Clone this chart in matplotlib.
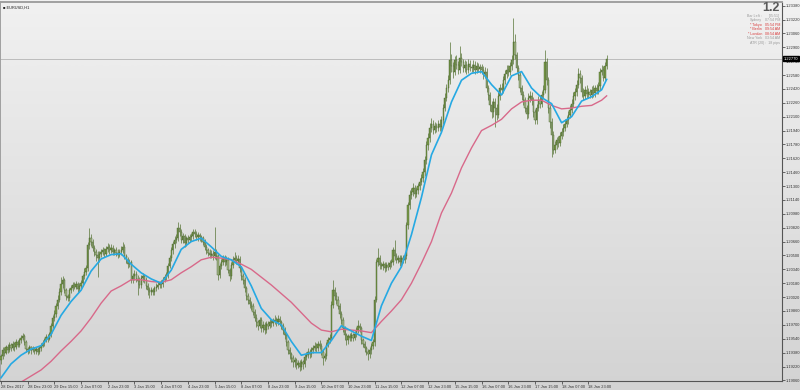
import numpy as np
import matplotlib.pyplot as plt
from matplotlib.colors import LinearSegmentedColormap

plt.rcParams['font.family'] = ['Liberation Sans', 'DejaVu Sans']

# EURUSD H1 bars, 28 Dec 2017 07:00 onwards
first_open = 1.1930
closes = [
    1.1934, 1.1941, 1.1938, 1.1944, 1.1941, 1.1947,
    1.1943, 1.1948, 1.1944, 1.1950, 1.1947, 1.1952,
    1.1955, 1.1957, 1.1950, 1.1942, 1.1941, 1.1944,
    1.1941, 1.1943, 1.1940, 1.1942, 1.1939, 1.1943,
    1.1946, 1.1949, 1.1952, 1.1956, 1.1954, 1.1959,
    1.1969, 1.1978, 1.1982, 1.1992, 1.1999, 1.2008,
    1.2017, 1.2022, 1.2010, 1.2003, 1.2001, 1.2010,
    1.2012, 1.2016, 1.2014, 1.2017, 1.2011, 1.2015,
    1.2018, 1.2026, 1.2031, 1.2035, 1.2062, 1.2070,
    1.2066, 1.2059, 1.2054, 1.2051, 1.2047, 1.2052,
    1.2054, 1.2056, 1.2052, 1.2057, 1.2060, 1.2056,
    1.2059, 1.2054, 1.2056, 1.2053, 1.2051, 1.2054,
    1.2056, 1.2060, 1.2049, 1.2045, 1.2040, 1.2042,
    1.2022, 1.2026, 1.2029, 1.2023, 1.2021, 1.2016,
    1.2024, 1.2026, 1.2022, 1.2015, 1.2010, 1.2008,
    1.2010, 1.2008, 1.2012, 1.2014, 1.2016, 1.2018,
    1.2017, 1.2022, 1.2025, 1.2027, 1.2038, 1.2047,
    1.2056, 1.2063, 1.2068, 1.2070, 1.2082, 1.2077,
    1.2068, 1.2072, 1.2064, 1.2070, 1.2068, 1.2071,
    1.2072, 1.2077, 1.2075, 1.2071, 1.2074, 1.2071,
    1.2070, 1.2066, 1.2060, 1.2056, 1.2053, 1.2051,
    1.2052, 1.2049, 1.2054, 1.2049, 1.2027, 1.2038,
    1.2042, 1.2047, 1.2042, 1.2045, 1.2033, 1.2026,
    1.2039, 1.2045, 1.2047, 1.2044, 1.2046, 1.2035,
    1.2026, 1.2022, 1.2012, 1.2003, 1.1999, 1.1994,
    1.1992, 1.1985, 1.1978, 1.1973, 1.1969, 1.1976,
    1.1966, 1.1970, 1.1964, 1.1971, 1.1969, 1.1973,
    1.1972, 1.1974, 1.1976, 1.1973, 1.1977, 1.1973,
    1.1969, 1.1964, 1.1958, 1.1950, 1.1941, 1.1936,
    1.1932, 1.1927, 1.1929, 1.1924, 1.1926, 1.1922,
    1.1927, 1.1925, 1.1933, 1.1935, 1.1939, 1.1936,
    1.1941, 1.1943, 1.1946, 1.1943, 1.1948, 1.1946,
    1.1939, 1.1932, 1.1934, 1.1947, 1.1952, 1.1955,
    1.1993, 1.2010, 1.2003, 1.1999, 1.1992, 1.1982,
    1.1976, 1.1966, 1.1958, 1.1952, 1.1957, 1.1955,
    1.1958, 1.1955, 1.1959, 1.1964, 1.1969, 1.1966,
    1.1952, 1.1948, 1.1943, 1.1939, 1.1936, 1.1941,
    1.1946, 1.1950, 1.1999, 1.2042, 1.2047, 1.2039,
    1.2038, 1.2040, 1.2035, 1.2039, 1.2037, 1.2041,
    1.2042, 1.2056, 1.2049, 1.2045, 1.2047, 1.2042,
    1.2047, 1.2045, 1.2049, 1.2085, 1.2108, 1.2120,
    1.2123, 1.2128, 1.2121, 1.2125, 1.2130, 1.2135,
    1.2139, 1.2146, 1.2160, 1.2177, 1.2185, 1.2197,
    1.2202, 1.2195, 1.2199, 1.2197, 1.2202, 1.2198,
    1.2206, 1.2220, 1.2232, 1.2243, 1.2252, 1.2275,
    1.2268, 1.2262, 1.2275, 1.2270, 1.2264, 1.2278,
    1.2273, 1.2266, 1.2270, 1.2264, 1.2271, 1.2267,
    1.2266, 1.2270, 1.2264, 1.2268, 1.2265, 1.2267,
    1.2264, 1.2259, 1.2262, 1.2243, 1.2235, 1.2223,
    1.2215, 1.2227, 1.2220, 1.2212, 1.2234, 1.2243,
    1.2241, 1.2252, 1.2259, 1.2264, 1.2262, 1.2268,
    1.2275, 1.2296, 1.2281, 1.2266, 1.2258, 1.2243,
    1.2235, 1.2229, 1.2220, 1.2213, 1.2232, 1.2234,
    1.2229, 1.2215, 1.2206, 1.2220, 1.2229, 1.2225,
    1.2235, 1.2241, 1.2273, 1.2252, 1.2220, 1.2204,
    1.2189, 1.2172, 1.2177, 1.2183, 1.2180, 1.2188,
    1.2192, 1.2197, 1.2202, 1.2206, 1.2212, 1.2218,
    1.2225, 1.2234, 1.2238, 1.2247, 1.2259, 1.2255,
    1.2238, 1.2234, 1.2241, 1.2236, 1.2238, 1.2235,
    1.2241, 1.2237, 1.2243, 1.2240, 1.2245, 1.2262,
    1.2264, 1.2255, 1.2268, 1.2277,
]
highs = [
    1.1937, 1.1945, 1.1944, 1.1947, 1.1948, 1.1950,
    1.1949, 1.1951, 1.1950, 1.1954, 1.1952, 1.1955,
    1.1958, 1.1961, 1.1959, 1.1952, 1.1945, 1.1947,
    1.1946, 1.1946, 1.1945, 1.1944, 1.1945, 1.1946,
    1.1949, 1.1953, 1.1955, 1.1960, 1.1959, 1.1962,
    1.1972, 1.1981, 1.1987, 1.1995, 1.2004, 1.2012,
    1.2025, 1.2026, 1.2024, 1.2012, 1.2006, 1.2013,
    1.2016, 1.2019, 1.2020, 1.2021, 1.2019, 1.2018,
    1.2022, 1.2029, 1.2035, 1.2039, 1.2066, 1.2082,
    1.2075, 1.2069, 1.2062, 1.2058, 1.2055, 1.2055,
    1.2058, 1.2060, 1.2059, 1.2061, 1.2064, 1.2063,
    1.2063, 1.2062, 1.2059, 1.2060, 1.2057, 1.2058,
    1.2061, 1.2065, 1.2063, 1.2052, 1.2048, 1.2046,
    1.2045, 1.2030, 1.2033, 1.2032, 1.2027, 1.2025,
    1.2028, 1.2030, 1.2029, 1.2025, 1.2018, 1.2014,
    1.2014, 1.2013, 1.2015, 1.2018, 1.2020, 1.2021,
    1.2022, 1.2025, 1.2029, 1.2031, 1.2041, 1.2051,
    1.2060, 1.2067, 1.2072, 1.2075, 1.2089, 1.2086,
    1.2080, 1.2076, 1.2075, 1.2073, 1.2074, 1.2075,
    1.2076, 1.2081, 1.2080, 1.2078, 1.2077, 1.2076,
    1.2074, 1.2073, 1.2069, 1.2063, 1.2059, 1.2057,
    1.2056, 1.2056, 1.2083, 1.2058, 1.2052, 1.2041,
    1.2046, 1.2050, 1.2051, 1.2049, 1.2048, 1.2036,
    1.2043, 1.2049, 1.2054, 1.2050, 1.2050, 1.2049,
    1.2038, 1.2030, 1.2025, 1.2015, 1.2007, 1.2002,
    1.1998, 1.1995, 1.1988, 1.1982, 1.1976, 1.1979,
    1.1979, 1.1974, 1.1973, 1.1975, 1.1974, 1.1977,
    1.1977, 1.1978, 1.1981, 1.1979, 1.1981, 1.1980,
    1.1976, 1.1972, 1.1967, 1.1961, 1.1953, 1.1944,
    1.1939, 1.1935, 1.1933, 1.1932, 1.1930, 1.1929,
    1.1931, 1.1930, 1.1936, 1.1939, 1.1943, 1.1942,
    1.1945, 1.1947, 1.1950, 1.1949, 1.1951, 1.1952,
    1.1949, 1.1941, 1.1938, 1.1950, 1.1956, 1.1959,
    1.1998, 1.2022, 1.2014, 1.2008, 1.2003, 1.1995,
    1.1986, 1.1979, 1.1969, 1.1961, 1.1960, 1.1961,
    1.1962, 1.1961, 1.1963, 1.1968, 1.1976, 1.1972,
    1.1969, 1.1955, 1.1951, 1.1946, 1.1942, 1.1944,
    1.1949, 1.1954, 1.2003, 1.2046, 1.2059, 1.2050,
    1.2043, 1.2044, 1.2043, 1.2042, 1.2043, 1.2045,
    1.2046, 1.2060, 1.2068, 1.2053, 1.2051, 1.2050,
    1.2050, 1.2051, 1.2053, 1.2089, 1.2112, 1.2125,
    1.2128, 1.2133, 1.2131, 1.2129, 1.2134, 1.2139,
    1.2144, 1.2151, 1.2165, 1.2182, 1.2191, 1.2203,
    1.2208, 1.2206, 1.2204, 1.2203, 1.2206, 1.2207,
    1.2211, 1.2225, 1.2237, 1.2248, 1.2258, 1.2296,
    1.2282, 1.2273, 1.2280, 1.2281, 1.2274, 1.2291,
    1.2283, 1.2277, 1.2275, 1.2274, 1.2276, 1.2275,
    1.2271, 1.2275, 1.2274, 1.2273, 1.2272, 1.2271,
    1.2271, 1.2268, 1.2267, 1.2266, 1.2247, 1.2239,
    1.2228, 1.2231, 1.2232, 1.2225, 1.2238, 1.2248,
    1.2249, 1.2257, 1.2264, 1.2269, 1.2270, 1.2273,
    1.2281, 1.2324, 1.2305, 1.2285, 1.2270, 1.2262,
    1.2247, 1.2240, 1.2233, 1.2224, 1.2237, 1.2240,
    1.2239, 1.2233, 1.2219, 1.2225, 1.2234, 1.2235,
    1.2240, 1.2247, 1.2287, 1.2278, 1.2256, 1.2224,
    1.2208, 1.2193, 1.2182, 1.2187, 1.2188, 1.2192,
    1.2197, 1.2202, 1.2207, 1.2211, 1.2217, 1.2223,
    1.2230, 1.2239, 1.2243, 1.2252, 1.2266, 1.2264,
    1.2258, 1.2243, 1.2245, 1.2246, 1.2243, 1.2242,
    1.2245, 1.2246, 1.2247, 1.2248, 1.2250, 1.2266,
    1.2270, 1.2268, 1.2273, 1.2281,
]
lows = [
    1.1925, 1.1931, 1.1934, 1.1936, 1.1938, 1.1939,
    1.1940, 1.1941, 1.1940, 1.1942, 1.1944, 1.1945,
    1.1949, 1.1952, 1.1947, 1.1939, 1.1937, 1.1938,
    1.1937, 1.1939, 1.1936, 1.1937, 1.1935, 1.1937,
    1.1940, 1.1944, 1.1946, 1.1950, 1.1950, 1.1952,
    1.1956, 1.1966, 1.1974, 1.1979, 1.1988, 1.1996,
    1.2005, 1.2013, 1.2007, 1.1999, 1.1997, 1.1998,
    1.2007, 1.2009, 1.2011, 1.2011, 1.2008, 1.2008,
    1.2012, 1.2015, 1.2023, 1.2028, 1.2032, 1.2058,
    1.2061, 1.2055, 1.2049, 1.2044, 1.2025, 1.2043,
    1.2048, 1.2050, 1.2048, 1.2049, 1.2054, 1.2052,
    1.2053, 1.2050, 1.2051, 1.2049, 1.2047, 1.2048,
    1.2050, 1.2053, 1.2046, 1.2041, 1.2036, 1.2037,
    1.2018, 1.2018, 1.2022, 1.2019, 1.2004, 1.2012,
    1.2013, 1.2020, 1.2018, 1.2011, 1.2005, 1.2001,
    1.2004, 1.2004, 1.2005, 1.2009, 1.2011, 1.2013,
    1.2013, 1.2014, 1.2019, 1.2022, 1.2024, 1.2035,
    1.2044, 1.2052, 1.2059, 1.2064, 1.2067, 1.2073,
    1.2064, 1.2064, 1.2060, 1.2061, 1.2064, 1.2065,
    1.2067, 1.2069, 1.2071, 1.2068, 1.2067, 1.2067,
    1.2066, 1.2062, 1.2056, 1.2052, 1.2049, 1.2047,
    1.2047, 1.2045, 1.2046, 1.2045, 1.2022, 1.2024,
    1.2034, 1.2039, 1.2038, 1.2039, 1.2030, 1.2021,
    1.2023, 1.2036, 1.2042, 1.2040, 1.2041, 1.2031,
    1.2022, 1.2017, 1.2008, 1.1999, 1.1994, 1.1989,
    1.1987, 1.1981, 1.1974, 1.1968, 1.1964, 1.1966,
    1.1962, 1.1962, 1.1960, 1.1961, 1.1965, 1.1966,
    1.1968, 1.1969, 1.1971, 1.1969, 1.1970, 1.1969,
    1.1965, 1.1960, 1.1954, 1.1946, 1.1937, 1.1931,
    1.1927, 1.1922, 1.1922, 1.1919, 1.1920, 1.1917,
    1.1918, 1.1919, 1.1922, 1.1929, 1.1932, 1.1932,
    1.1933, 1.1938, 1.1940, 1.1939, 1.1940, 1.1942,
    1.1935, 1.1924, 1.1928, 1.1931, 1.1944, 1.1949,
    1.1952, 1.1990, 1.1999, 1.1994, 1.1988, 1.1978,
    1.1971, 1.1962, 1.1953, 1.1947, 1.1948, 1.1951,
    1.1951, 1.1951, 1.1952, 1.1956, 1.1961, 1.1962,
    1.1948, 1.1944, 1.1939, 1.1935, 1.1929, 1.1932,
    1.1937, 1.1942, 1.1946, 1.1996, 1.2038, 1.2034,
    1.2034, 1.2033, 1.2031, 1.2032, 1.2033, 1.2034,
    1.2037, 1.2039, 1.2045, 1.2041, 1.2041, 1.2038,
    1.2038, 1.2041, 1.2041, 1.2046, 1.2081, 1.2104,
    1.2115, 1.2119, 1.2116, 1.2117, 1.2121, 1.2126,
    1.2131, 1.2135, 1.2142, 1.2156, 1.2172, 1.2181,
    1.2192, 1.2190, 1.2191, 1.2192, 1.2193, 1.2194,
    1.2194, 1.2202, 1.2216, 1.2228, 1.2238, 1.2248,
    1.2262, 1.2255, 1.2258, 1.2265, 1.2259, 1.2260,
    1.2268, 1.2261, 1.2262, 1.2259, 1.2260, 1.2263,
    1.2261, 1.2262, 1.2259, 1.2260, 1.2261, 1.2260,
    1.2259, 1.2254, 1.2255, 1.2238, 1.2229, 1.2217,
    1.2208, 1.2210, 1.2198, 1.2206, 1.2208, 1.2229,
    1.2236, 1.2237, 1.2248, 1.2255, 1.2257, 1.2258,
    1.2264, 1.2271, 1.2276, 1.2261, 1.2252, 1.2238,
    1.2229, 1.2224, 1.2215, 1.2207, 1.2209, 1.2227,
    1.2224, 1.2210, 1.2201, 1.2202, 1.2216, 1.2220,
    1.2221, 1.2231, 1.2237, 1.2247, 1.2214, 1.2197,
    1.2164, 1.2167, 1.2168, 1.2173, 1.2175, 1.2176,
    1.2184, 1.2188, 1.2193, 1.2198, 1.2202, 1.2208,
    1.2214, 1.2221, 1.2229, 1.2234, 1.2243, 1.2249,
    1.2233, 1.2229, 1.2230, 1.2232, 1.2232, 1.2231,
    1.2231, 1.2233, 1.2233, 1.2236, 1.2236, 1.2241,
    1.2258, 1.2251, 1.2252, 1.2265,
]

# moving averages, read every 6 bars
ma_idx = list(range(0, 361, 6)) + [363]
fast_ma = [
    1.1909, 1.1925, 1.1935, 1.1942, 1.1946, 1.1959, 1.1981, 1.1997, 1.2010, 1.2032,
    1.2046, 1.2051, 1.2052, 1.2040, 1.2030, 1.2023, 1.2018, 1.2033, 1.2057, 1.2066,
    1.2070, 1.2060, 1.2049, 1.2045, 1.2037, 1.2015, 1.1989, 1.1976, 1.1970, 1.1951,
    1.1935, 1.1938, 1.1938, 1.1952, 1.1969, 1.1963, 1.1957, 1.1952, 1.1992, 1.2018,
    1.2037, 1.2074, 1.2117, 1.2166, 1.2192, 1.2227, 1.2252, 1.2260, 1.2262, 1.2247,
    1.2235, 1.2257, 1.2262, 1.2243, 1.2232, 1.2225, 1.2203, 1.2210, 1.2228, 1.2233,
    1.2241, 1.2253,
]
slow_ma = [
    1.1889, 1.1897, 1.1904, 1.1911, 1.1918, 1.1928, 1.1940, 1.1951, 1.1963, 1.1978,
    1.1995, 1.2009, 1.2015, 1.2022, 1.2022, 1.2020, 1.2019, 1.2022, 1.2030, 1.2037,
    1.2045, 1.2048, 1.2047, 1.2045, 1.2040, 1.2034, 1.2025, 1.2016, 1.2006, 1.1996,
    1.1984, 1.1972, 1.1964, 1.1962, 1.1965, 1.1964, 1.1963, 1.1961, 1.1974, 1.1986,
    1.1999, 1.2018, 1.2041, 1.2066, 1.2099, 1.2122, 1.2151, 1.2174, 1.2194, 1.2200,
    1.2207, 1.2219, 1.2227, 1.2229, 1.2229, 1.2223, 1.2219, 1.2220, 1.2222, 1.2223,
    1.2229, 1.2234,
]

xtick_labels = ['28 Dec 2017', '28 Dec 23:00', '29 Dec 15:00', '2 Jan 07:00', '2 Jan 23:00',
                '3 Jan 15:00', '4 Jan 07:00', '4 Jan 23:00', '5 Jan 15:00', '8 Jan 07:00',
                '8 Jan 23:00', '9 Jan 15:00', '10 Jan 07:00', '10 Jan 23:00', '11 Jan 15:00',
                '12 Jan 07:00', '12 Jan 23:00', '15 Jan 15:00', '16 Jan 07:00', '16 Jan 23:00',
                '17 Jan 15:00', '18 Jan 07:00', '18 Jan 23:00']
ytick_vals = [1.19060 + 0.0016 * k for k in range(28)]

info_rows = [('Bar Left :', '[05:51]', '#9a9a9a'),
             ('Sydney', '07:54 PM', '#9a9a9a'),
             ('* Tokyo', '05:54 PM', '#d83a3a'),
             ('* Berlin', '09:54 AM', '#d83a3a'),
             ('* London', '08:54 AM', '#d83a3a'),
             ('New York', '03:54 AM', '#9a9a9a')]

o = np.array([first_open] + closes[:-1])
c = np.array(closes)
h = np.array(highs)
l = np.array(lows)
idx = np.arange(len(c))
up = c >= o
bid = closes[-1]

W, H = 800, 390
fig = plt.figure(figsize=(8, 3.9), dpi=100)

# gradient background
bg = fig.add_axes([0, 0, 1, 1])
grad = LinearSegmentedColormap.from_list('g', ['#f1f1f1', '#d3d3d3'])
bg.imshow(np.linspace(0, 1, 256).reshape(-1, 1), aspect='auto', cmap=grad, extent=[0, 1, 0, 1])
bg.axis('off')

ax = fig.add_axes([0, 9 / H, 782 / W, 379 / H])
ax.set_facecolor('none')

ax.axhline(bid, color='#b4b4b4', lw=0.6, zorder=1)
ax.vlines(idx, l, h, color='#587536', lw=0.5, zorder=2)
ax.bar(idx[up], (c - o)[up], bottom=o[up], width=0.75, color='#7a9a4a',
       edgecolor='#46632a', linewidth=0.3, zorder=3)
ax.bar(idx[~up], (o - c)[~up], bottom=c[~up], width=0.75, color='#a2b387',
       edgecolor='#46632a', linewidth=0.3, zorder=3)
ax.plot(ma_idx, slow_ma, color='#d8698a', lw=1.0, zorder=4)
ax.plot(ma_idx, fast_ma, color='#26a9e3', lw=1.2, zorder=5)

ax.set_xlim(-0.6, 468.1)
ax.set_ylim(1.19053, 1.23422)

ax.yaxis.tick_right()
ax.set_yticks(ytick_vals)
ax.set_yticklabels([f'{v:.5f}' for v in ytick_vals])
ax.tick_params(axis='y', direction='out', length=2, width=0.5, pad=1,
               labelsize=2.9, colors='#333333')
ax.set_xticks(range(0, 353, 16))
ax.set_xticklabels(xtick_labels, ha='left')
ax.tick_params(axis='x', direction='out', length=2, width=0.5, pad=0.6,
               labelsize=2.9, colors='#333333')

for side in ['right', 'bottom']:
    ax.spines[side].set_color('#555555')
    ax.spines[side].set_linewidth(0.8)
for side in ['top', 'left']:
    ax.spines[side].set_color('#a0a0a0')
    ax.spines[side].set_linewidth(1.4)

# current price box
ax.text(1.002, bid, f'{bid:.5f}', transform=ax.get_yaxis_transform(), ha='left', va='center',
        fontsize=2.9, color='white',
        bbox=dict(boxstyle='square,pad=0.2', fc='black', ec='black'))

ax.text(0.004, 0.99, '\u25a0 EURUSD,H1', transform=ax.transAxes, ha='left', va='top',
        fontsize=2.9, color='#222222')

# info panel
fig.text(780 / W, 1 - 8 / H, '1.2', ha='right', va='center', fontsize=9,
         color='#5a5a5a', weight='bold')
for k, (lab, val, col) in enumerate(info_rows):
    yy = 1 - (15.7 + 4.55 * k) / H
    fig.text(762 / W, yy, lab, ha='right', va='center', fontsize=2.6, color=col)
    fig.text(780 / W, yy, val, ha='right', va='center', fontsize=2.6, color=col)
fig.text(780 / W, 1 - 43 / H, 'ATR (20) :  18 pips', ha='right', va='center',
         fontsize=2.6, color='#9a9a9a')

fig.savefig('out.png', dpi=100)
